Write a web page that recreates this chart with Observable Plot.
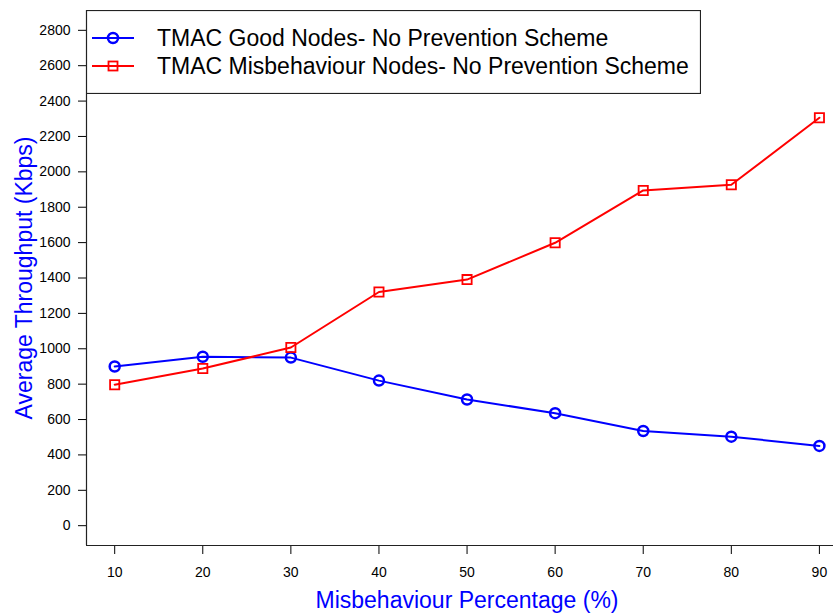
<!DOCTYPE html>
<html>
<head>
<meta charset="utf-8">
<script src="https://cdn.jsdelivr.net/npm/d3@7"></script>
<script src="https://cdn.jsdelivr.net/npm/@observablehq/plot@0.6"></script>
<style>
  html, body { margin: 0; padding: 0; background: #fff; }
  #wrap { position: relative; width: 833px; height: 616px; overflow: hidden; font-family: "Liberation Sans", Arial, sans-serif; }
  #legend { position: absolute; left: 86px; top: 10px; }
</style>
</head>
<body>
<div id="wrap"></div>
<script>
const percentages = [10, 20, 30, 40, 50, 60, 70, 80, 90];
const goodNodes = [900, 955, 950, 820, 713, 636, 535, 503, 451];
const misbehaviourNodes = [797, 888, 1007, 1321, 1391, 1599, 1895, 1927, 2306];
const xTicks = [10, 20, 30, 40, 50, 60, 70, 80, 90];
const yTicks = [0, 200, 400, 600, 800, 1000, 1200, 1400, 1600, 1800, 2000, 2200, 2400, 2600, 2800];
const seriesNames = ["TMAC Good Nodes- No Prevention Scheme", "TMAC Misbehaviour Nodes- No Prevention Scheme"];
const seriesColors = ["#0000ff", "#ff0000"];
const xLabel = "Misbehaviour Percentage (%)";
const yLabel = "Average Throughput (Kbps)";

const good = percentages.map((p, i) => ({x: p, y: goodNodes[i]}));
const mis = percentages.map((p, i) => ({x: p, y: misbehaviourNodes[i]}));

const xDomain = [6.8, 91.6];
const yDomain = [-112, 2912];

const chart = Plot.plot({
  width: 833,
  height: 616,
  marginLeft: 86,
  marginRight: 0,
  marginTop: 10,
  marginBottom: 71,
  style: {fontFamily: '"Liberation Sans", Arial, sans-serif', fontSize: "14px", color: "#000", background: "#fff"},
  x: {domain: xDomain, ticks: xTicks, tickSize: 9, tickPadding: 13, tickFormat: "d", label: null},
  y: {domain: yDomain, ticks: yTicks, tickSize: 8, tickPadding: 8, tickFormat: "d", label: null},
  marks: [
    Plot.ruleX([xDomain[0]], {stroke: "#222", strokeWidth: 1.2}),
    Plot.ruleY([yDomain[0]], {stroke: "#222", strokeWidth: 1.2}),
    Plot.line(good, {x: "x", y: "y", stroke: seriesColors[0], strokeWidth: 2}),
    Plot.line(mis, {x: "x", y: "y", stroke: seriesColors[1], strokeWidth: 2}),
    Plot.dot(good, {x: "x", y: "y", r: 5, stroke: seriesColors[0], strokeWidth: 2.5, fill: "none"}),
    Plot.dot(mis, {x: "x", y: "y", symbol: "square", r: 5.2, stroke: seriesColors[1], strokeWidth: 1.8, fill: "none"}),
    Plot.text([xLabel], {frameAnchor: "bottom", text: d => d, dy: 62, dx: 7, fill: "#0000ff", fontSize: 23, textAnchor: "middle"}),
    Plot.text([yLabel], {frameAnchor: "left", text: d => d, rotate: -90, dx: -62, dy: 0, fill: "#0000ff", fontSize: 23, textAnchor: "middle"})
  ]
});
document.getElementById("wrap").appendChild(chart);

// Legend
const lw = 614, lh = 83;
const leg = d3.select("#wrap").append("svg")
  .attr("id", "legend").attr("width", lw + 1).attr("height", lh + 1)
  .style("font-family", '"Liberation Sans", Arial, sans-serif');
leg.append("rect").attr("x", 0.5).attr("y", 0.5).attr("width", lw).attr("height", lh)
  .attr("fill", "#fff").attr("stroke", "#222").attr("stroke-width", 1.2);
seriesNames.forEach((name, i) => {
  const cy = 28 + i * 28;
  const g = leg.append("g");
  g.append("line").attr("x1", 6).attr("x2", 48).attr("y1", cy).attr("y2", cy)
    .attr("stroke", seriesColors[i]).attr("stroke-width", 2);
  if (i === 0) {
    g.append("circle").attr("cx", 27).attr("cy", cy).attr("r", 5)
      .attr("fill", "none").attr("stroke", seriesColors[i]).attr("stroke-width", 2.5);
  } else {
    g.append("rect").attr("x", 22.5).attr("y", cy - 4.5).attr("width", 9).attr("height", 9)
      .attr("fill", "none").attr("stroke", seriesColors[i]).attr("stroke-width", 1.8);
  }
  g.append("text").attr("x", 71).attr("y", cy).attr("dy", "0.35em")
    .attr("font-size", 23).attr("fill", "#000").text(name);
});
</script>
</body>
</html>
